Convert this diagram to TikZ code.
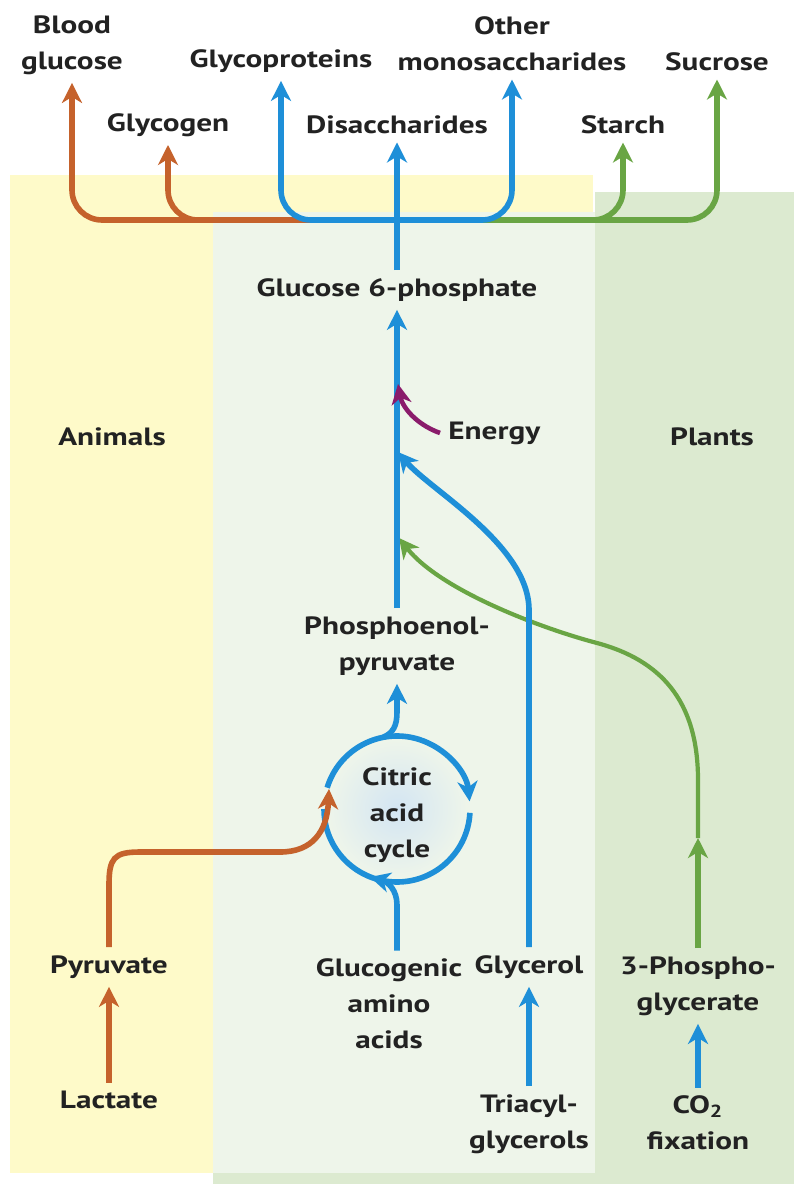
\documentclass[tikz,border=0pt]{standalone}
\usepackage{fontspec}
\setmainfont{PT Sans}[FakeStretch=1.25]
\usepackage{tikz}
\usetikzlibrary{arrows.meta,positioning,calc}
\definecolor{flowblue}{HTML}{1E8FD8}
\definecolor{floworange}{HTML}{C5622C}
\definecolor{flowgreen}{HTML}{69A544}
\definecolor{flowpurple}{HTML}{8A1B6B}
\definecolor{animalbg}{HTML}{FEFAC9}
\definecolor{sharedbg}{HTML}{EEF5EA}
\definecolor{plantbg}{HTML}{DCEAD0}
\definecolor{cyclefill}{HTML}{D3E5F3}
\definecolor{inkgray}{HTML}{222222}
\tikzset{
  metab/.style={align=center,font=\bfseries\fontsize{12.5}{18}\selectfont,text=inkgray,inner sep=4pt},
  side/.style={metab},
  arrow/.style={-{Stealth[length=10pt,width=10pt,inset=3pt]},line width=2.8pt,draw=flowblue},
  orarrow/.style={arrow,draw=floworange},
  grarrow/.style={arrow,draw=flowgreen},
  purarrow/.style={arrow,draw=flowpurple,line width=2.3pt},
  fan/.style={rounded corners=15pt}
}

\begin{document}
\begin{tikzpicture}[x=0.5pt,y=0.5pt]
  \useasboundingbox (0,0) rectangle (794,-1184);
  \fill[plantbg] (595,-192) rectangle (794,-1184);
  \fill[plantbg] (213,-1173) rectangle (794,-1184);
  \fill[animalbg] (10,-175) rectangle (593,-212);
  \fill[animalbg] (10,-175) rectangle (213,-1173);
  \fill[sharedbg] (213,-212) rectangle (595,-1173);
  \shade[inner color=cyclefill,outer color=sharedbg] (397,-809) circle (70);

  \node[metab] (blood) at (72,-45) {Blood\\glucose};
  \node[metab] (glycoprot) at (281,-61) {Glycoproteins};
  \node[metab] (othermono) at (512,-44) {Other\\monosaccharides};
  \node[metab] (sucrose) at (717,-62) {Sucrose};
  \node[metab] (glycogen) at (168,-125) {Glycogen};
  \node[metab] (disacch) at (397,-125) {Disaccharides};
  \node[metab] (starch) at (623,-125) {Starch};
  \node[metab] (g6p) at (397,-290) {Glucose 6-phosphate};
  \node[side] (animals) at (112,-437) {Animals};
  \node[side] (plants) at (712,-437) {Plants};
  \node[metab,anchor=west] (energy) at (440,-433) {Energy};
  \node[metab] (pep) at (397,-646) {Phosphoenol-\\pyruvate};
  \node[metab] (cyc) at (397,-815) {Citric\\acid\\cycle};
  \node[metab] (pyruvate) at (109,-967) {Pyruvate};
  \node[metab] (lactate) at (109,-1100) {Lactate};
  \node[metab] (glucogenic) at (389,-1004) {Glucogenic\\amino\\acids};
  \node[metab] (glycerol) at (529,-967) {Glycerol};
  \node[metab] (triacyl) at (529,-1124) {Triacyl-\\glycerols};
  \node[metab] (phosphog) at (698,-986) {3-Phospho-\\glycerate};
  \node[metab] (co2) at (698,-1123) {CO\textsubscript{2}\\fixation};

  \coordinate (hub) at (397,-220);
  \coordinate (cac) at (397,-809);
  \coordinate (ein) at (398,-384);
  \coordinate (gin) at (398,-452);
  \coordinate (pin) at (399,-538);
  \coordinate (pgmid) at (698,-838);
  \coordinate (gluin) at (370,-877);
  \coordinate (orin) at (329,-789);
  \coordinate (cexit) at ([shift={(101:36.5pt)}]cac);

  \draw[orarrow,fan] (hub) -| (blood);
  \draw[orarrow,fan] (hub) -| (glycogen);
  \draw[grarrow,fan] (hub) -| (starch);
  \draw[grarrow,fan] (hub) -| (sucrose);
  \draw[arrow,fan] (hub) -| (glycoprot);
  \draw[arrow,fan] (hub) -| (othermono);
  \draw[arrow] (g6p) -- (disacch);

  \draw[grarrow] (phosphog) -- (pgmid);
  \draw[grarrow,line width=2.1pt] (pgmid) -- (698,-780) .. controls (698,-700) and (660,-660) .. (597,-643)
    .. controls (540,-628) and (440,-590) .. (pin);
  \draw[arrow] (glycerol) -- (529,-610) .. controls (529,-545) and (430,-490) .. (gin);
  \draw[arrow] (pep) -- (g6p);
  \draw[purarrow] (energy.west) .. controls (415,-424) and (402,-406) .. (ein);

  \draw[arrow] ([shift={(163:36.5pt)}]cac) arc[start angle=163,end angle=6,radius=36.5pt];
  \draw[arrow,-] ([shift={(-3:36.5pt)}]cac) arc[start angle=-3,end angle=-180,radius=36.5pt];
  \draw[arrow] (cexit) .. controls (393,-733) and (397,-726) .. (397,-712) -- (pep);
  \draw[arrow] (glucogenic.north -| cac) -- (397,-905) .. controls (397,-890) and (388,-882) .. (gluin);
  \draw[orarrow] (pyruvate) -- (109,-885) .. controls (109,-858) and (114,-852) .. (140,-852) -- (280,-852)
    .. controls (312,-852) and (327,-832) .. (orin);

  \draw[orarrow] (lactate) -- (pyruvate);
  \draw[arrow] (triacyl) -- (glycerol);
  \draw[arrow] (co2) -- (phosphog);
\end{tikzpicture}
\end{document}
